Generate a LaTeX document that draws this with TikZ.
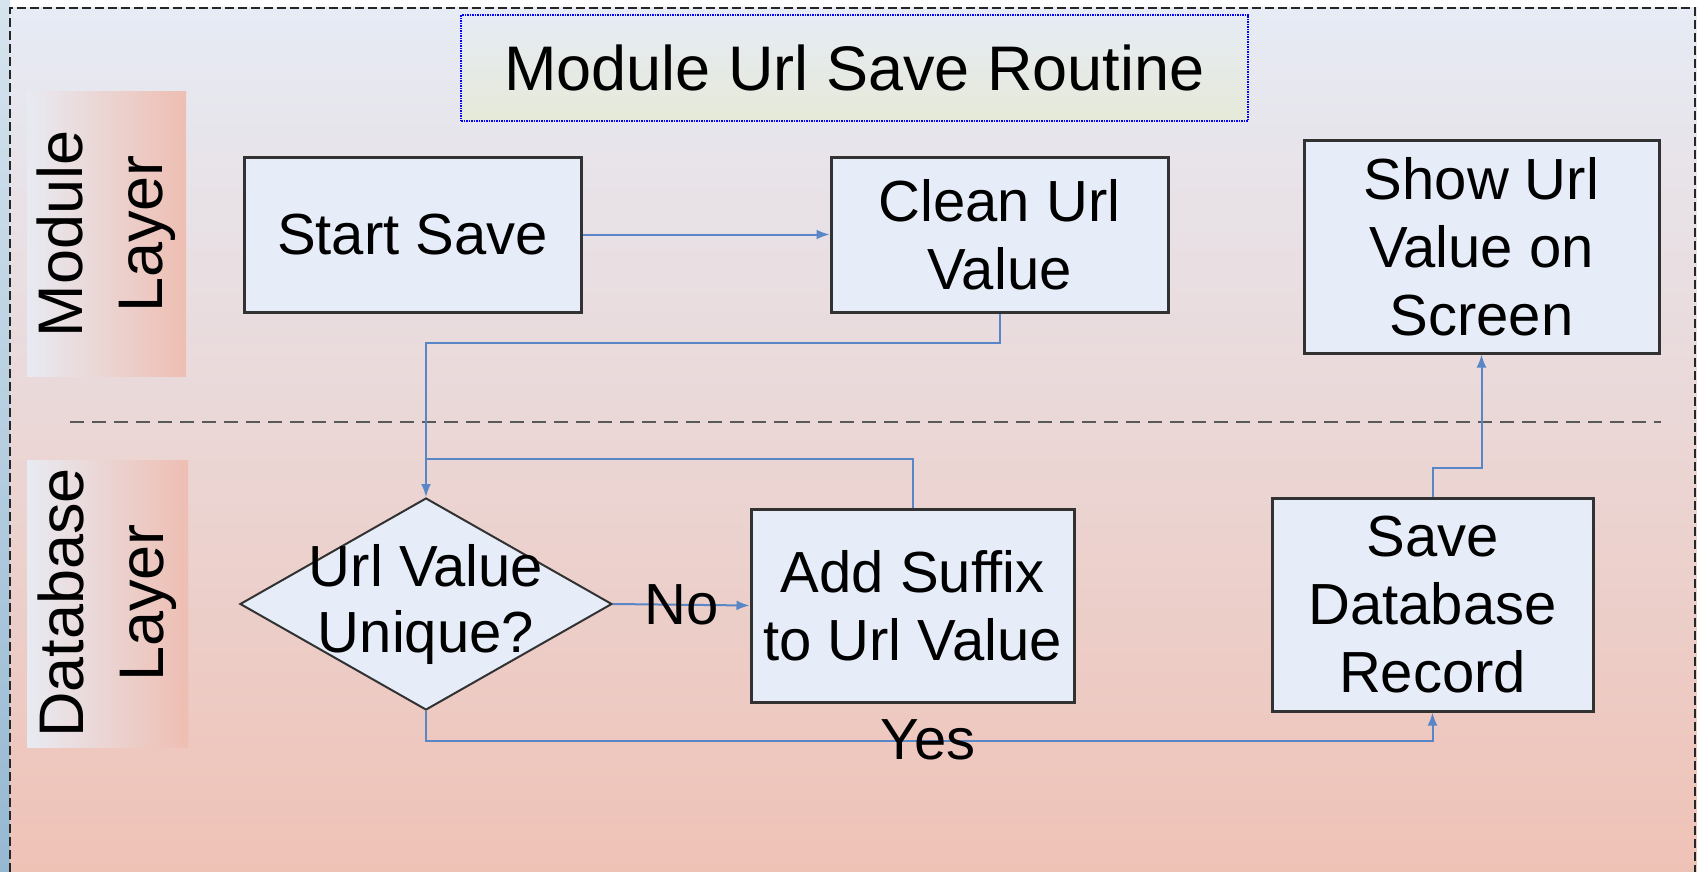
\documentclass[tikz,border=0pt]{standalone}
\usepackage{fontspec}
\setmainfont{Liberation Sans}
\usetikzlibrary{arrows.meta}
\usetikzlibrary{shapes.geometric}
\tikzset{>=latex}
\definecolor{bgtop}{RGB}{230,235,245}
\definecolor{bgbottom}{RGB}{239,194,182}
\definecolor{boxfill}{RGB}{230,237,248}
\definecolor{boxline}{RGB}{50,50,50}
\definecolor{flowblue}{RGB}{88,134,198}
\definecolor{lanepink}{RGB}{238,190,178}
\definecolor{lanegrey}{RGB}{232,234,242}
\definecolor{titlegreen}{RGB}{230,234,216}
\definecolor{skytop}{RGB}{214,228,238}
\definecolor{skybottom}{RGB}{150,184,210}

\begin{document}
\begin{tikzpicture}[x=1pt, y=-1pt,
  stepbox/.style={draw=boxline, line width=3pt, fill=boxfill, align=center, inner sep=0pt, font=\fontsize{58}{68}\selectfont},
  decision/.style={diamond, draw=boxline, line width=2pt, fill=boxfill, inner sep=0pt, minimum width=372pt, minimum height=212pt},
  flowline/.style={draw=flowblue, line width=2pt},
  flow/.style={flowline, -{Latex[length=13pt,width=10pt]}},
  lanetext/.style={rotate=90, align=center, font=\fontsize{63}{80}\selectfont},
  flowlabel/.style={font=\fontsize{58}{68}\selectfont}]
  \useasboundingbox (0,0) rectangle (1697,872);
  % backdrop and frame
  \shade [top color=skytop, bottom color=skybottom] (0,0) rectangle (10,872);
  \shade [top color=bgtop, bottom color=bgbottom] (10,8) rectangle (1697,872);
  \draw [black!85, line width=2.5pt, dash pattern=on 9pt off 4pt] (10,872) -- (10,8) -- (1695,8) -- (1695,872);
  \shade [left color=lanegrey, middle color=lanegrey!55!lanepink, right color=lanepink] (27,92) rectangle (186,376);
  \shade [left color=lanegrey, middle color=lanegrey!55!lanepink, right color=lanepink] (27,460) rectangle (188,747);
  \draw [black!65, line width=2.5pt, dash pattern=on 14pt off 8pt] (70,422) -- (1661,422);

  \node (title) [draw=blue, densely dotted, line width=1.5pt, top color=bgtop, bottom color=titlegreen,
    minimum width=787pt, minimum height=106pt, font=\fontsize{63}{76}\selectfont] at (854.5,68) {Module Url Save Routine};
  \node (modlane) [lanetext] at (106,234) {Module\\Layer};
  \node (dblane) [lanetext] at (107,603) {Database\\Layer};

  \node (start) [stepbox, minimum width=337pt, minimum height=155pt] at (412.5,234.5) {Start Save};
  \node (clean) [stepbox, minimum width=337pt, minimum height=155pt] at (999.5,234.5) {Clean Url\\Value};
  \node (show) [stepbox, minimum width=355pt, minimum height=212pt] at (1481.5,247) {Show Url\\Value on\\Screen};
  \node (uniq) [decision, label={[align=center, font=\fontsize{58}{66}\selectfont]center:Url Value\\Unique?}] at (426,604) {};
  \node (suffix) [stepbox, minimum width=323pt, minimum height=193pt] at (912.5,605.5) {Add Suffix\\to Url Value};
  \node (save) [stepbox, minimum width=321pt, minimum height=213pt] at (1432.5,604.5) {Save\\Database\\Record};
  \coordinate (merge) at (426,459);

  \draw [flow] (start) -- (clean);
  \draw [flow] (clean.south) -- ++(0,29) -| (uniq.north);
  \draw [flowline] (suffix.north) |- (merge);
  \draw [flow] (uniq.east) -- node [flowlabel] {No} (suffix.west);
  \draw [flow] (uniq.south) -- ++(0,30) -| (save.south);
  \node (yes) [flowlabel] at (928,740) {Yes};
  \draw [flow] (save.north) -- ++(0,-29) -| (show.south);
\end{tikzpicture}
\end{document}
